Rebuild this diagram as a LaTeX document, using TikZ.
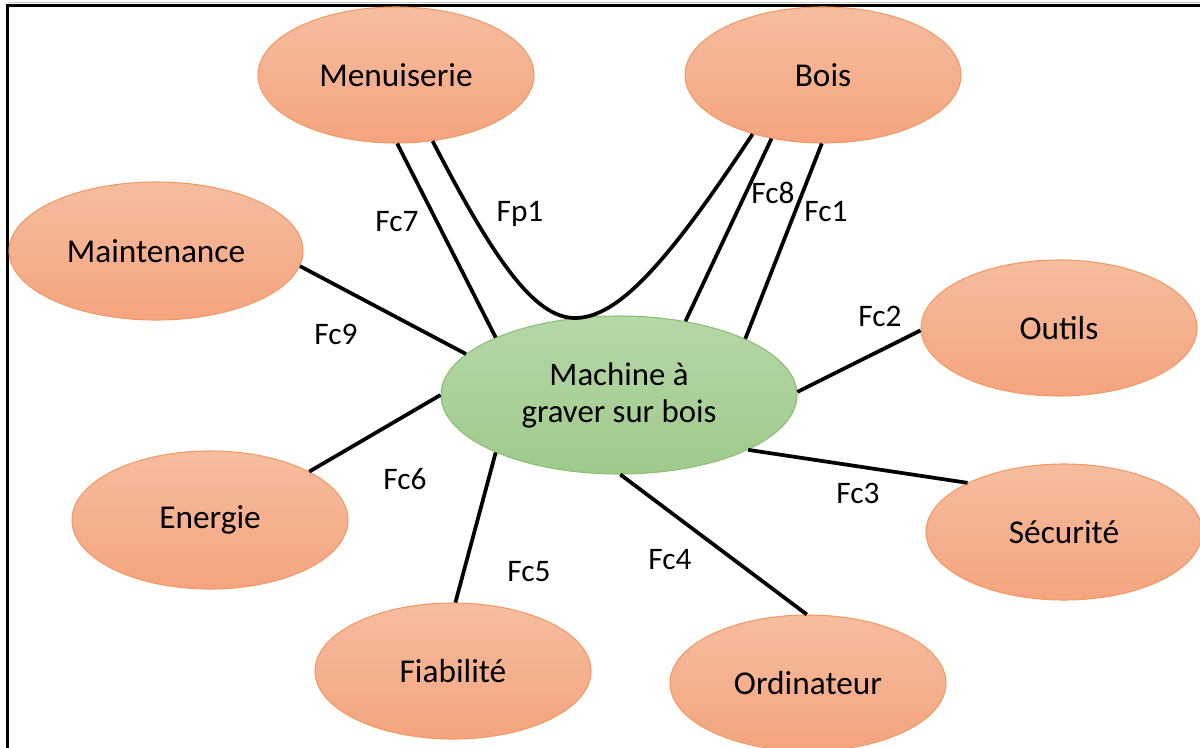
\documentclass[tikz,border=0pt]{standalone}
\usepackage{fontspec}
\setmainfont{Carlito}
\usetikzlibrary{shapes.geometric}
\definecolor{peachtop}{HTML}{F6BD9F}
\definecolor{peachbot}{HTML}{F4A47F}
\definecolor{peachline}{HTML}{F09A66}
\definecolor{leaftop}{HTML}{B6D7A7}
\definecolor{leafbot}{HTML}{9FCA8B}
\definecolor{leafline}{HTML}{8CBF74}
\tikzset{
  actor/.style={ellipse, draw=peachline, line width=0.8pt, top color=peachtop,
    bottom color=peachbot, inner sep=0pt, minimum width=207pt, minimum height=102pt,
    font=\fontsize{25}{29}\selectfont},
  product/.style={ellipse, draw=leafline, line width=0.8pt, top color=leaftop,
    bottom color=leafbot, inner sep=0pt, minimum width=267pt, minimum height=118.5pt,
    align=center, font=\fontsize{24.6}{27.75}\selectfont},
  link/.style={line width=2.8pt, black},
  fname/.style={inner sep=0pt, font=\fontsize{23.5}{27}\selectfont}
}
\begin{document}
\begin{tikzpicture}[x=0.75pt, y=-0.75pt]
\useasboundingbox (0,0) rectangle (1200,747);
% frame
\draw[gray!40, line width=1pt] (7.7,2.2) -- (1210,2.2);
\draw[black, line width=2.2pt] (7.7,760) -- (7.7,5.6) -- (1210,5.6);

% product and its environment
\node[product] (mach) at (619,395) {Machine à\\graver sur bois};
\node[actor] (menu) at (396,75) {Menuiserie};
\node[actor] (bois) at (823,75) {Bois};
\node[actor, minimum width=220.5pt, minimum height=103.5pt] (maint) at (156,251) {Maintenance};
\node[actor] (outils) at (1059,328) {Outils};
\node[actor, minimum height=103.5pt] (energ) at (210,520) {Energie};
\node[actor] (secu) at (1064,532) {Sécurité};
\node[actor] (fiab) at (453,671) {Fiabilité};
\node[actor] (ordi) at (808,683) {Ordinateur};

% functions
\draw[link] (menu.-89) -- (mach.155.5);
\draw[link] (menu.-61) .. controls (495,262) and (535,318) .. (575,318)
  .. controls (618,318) and (667.5,263) .. (bois.-140.7);
\draw[link] (bois.-129) -- (mach.48.7);
\draw[link] (bois.-91) -- (mach.24);
\draw[link] (maint.-6.3) -- (mach.165.4);
\draw[link] (energ.26) -- (mach.180);
\draw[link] (outils.-179) -- (mach.1);
\draw[link] (secu.153.4) -- (mach.-23.6);
\draw[link] (fiab.88) -- (mach.-155.7);
\draw[link] (ordi.91) -- (mach.-89.3);

% function names
\node[fname] (t7) at (397,222) {Fc7};
\node[fname] (tp1) at (520,214) {Fp1};
\node[fname] (t8) at (773,193) {Fc8};
\node[fname] (t1) at (826,212) {Fc1};
\node[fname] (t2) at (880,316) {Fc2};
\node[fname] (t9) at (336,334) {Fc9};
\node[fname] (t6) at (405,479) {Fc6};
\node[fname] (t3) at (858,493) {Fc3};
\node[fname] (t5) at (529,572) {Fc5};
\node[fname] (t4) at (670,560) {Fc4};
\end{tikzpicture}
\end{document}
